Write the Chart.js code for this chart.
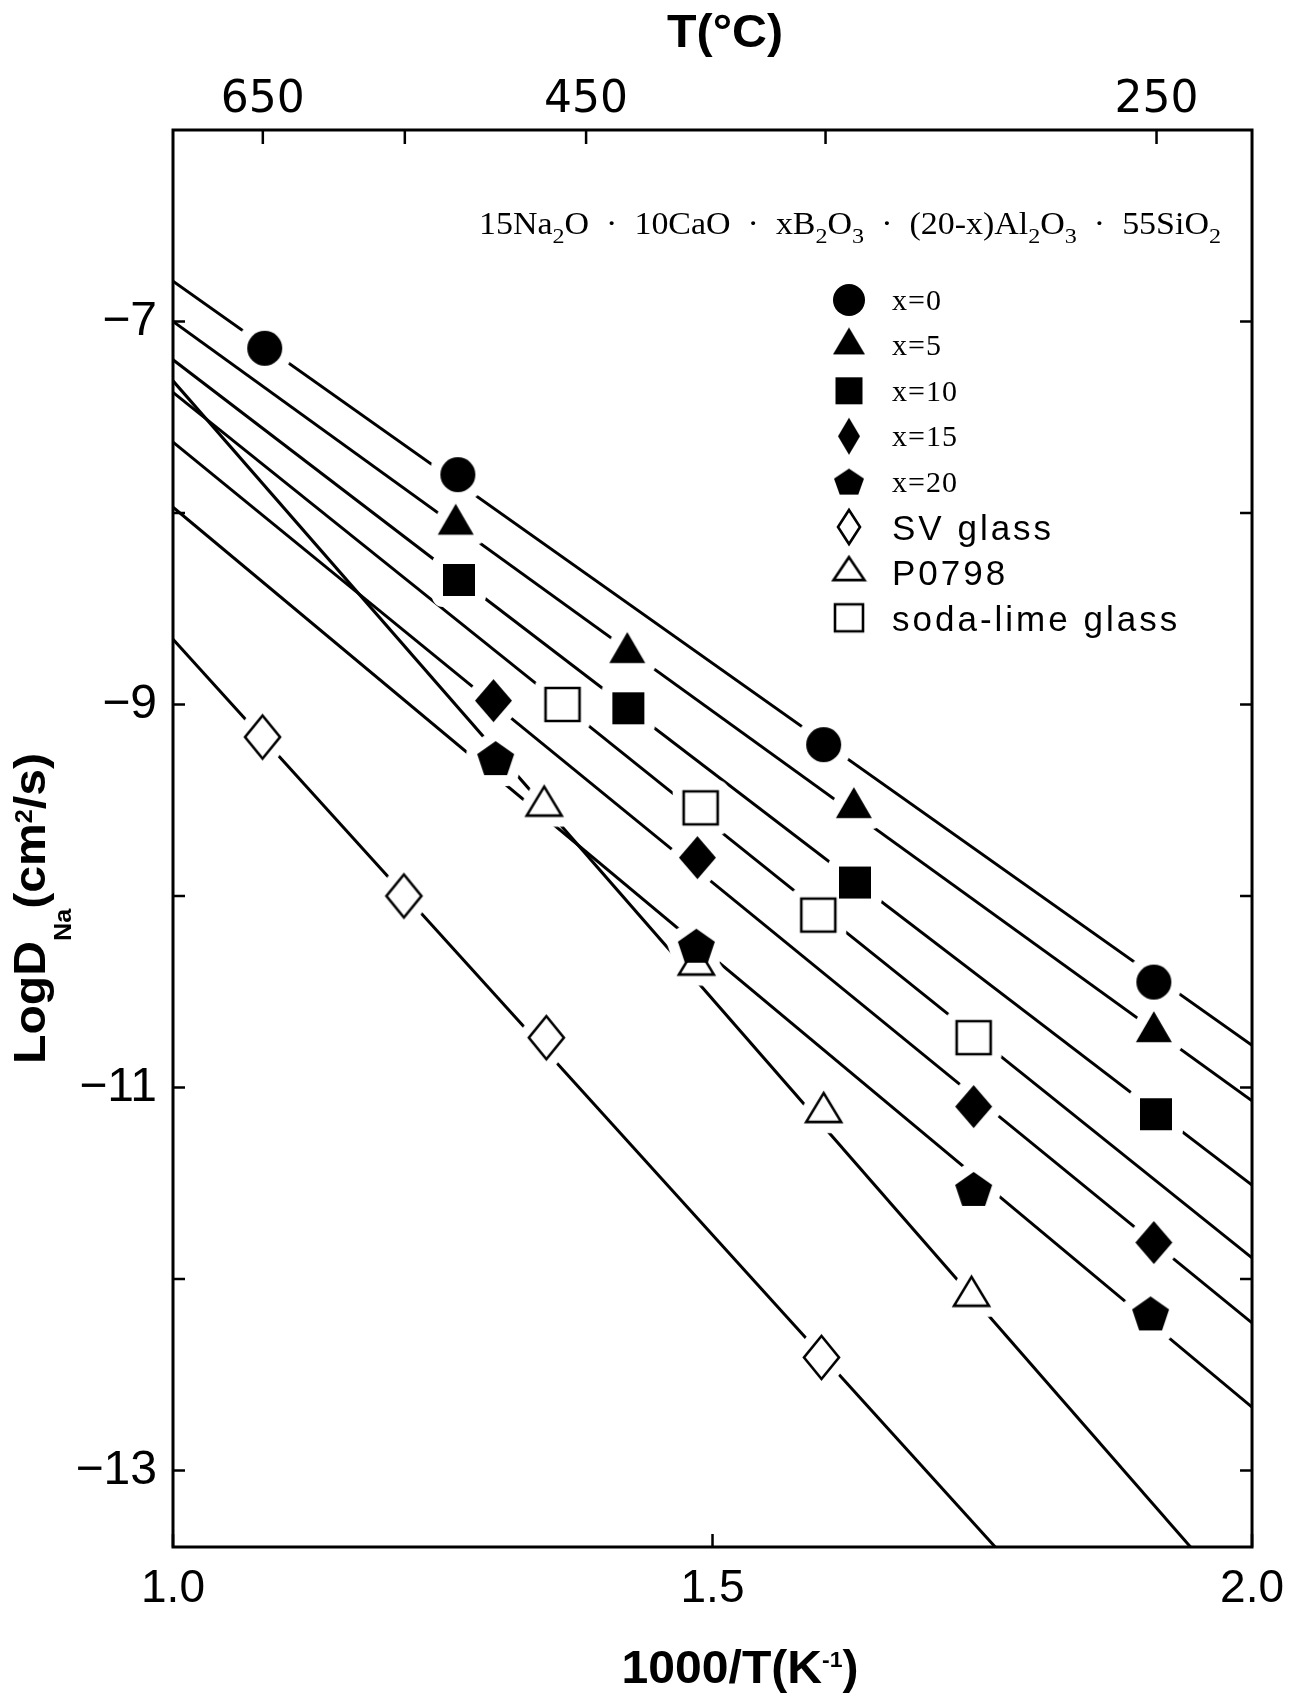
<!DOCTYPE html>
<html>
<head>
<meta charset="utf-8">
<title>Na diffusion vs 1000/T</title>
<script src="https://cdn.jsdelivr.net/npm/chart.js@4.4.1/dist/chart.umd.min.js"></script>
<style>
  html, body { margin: 0; padding: 0; background: #fff; }
  #wrap { position: relative; width: 1299px; height: 1696px; }
</style>
</head>
<body>
<div id="wrap"><canvas id="diffChart"></canvas></div>
<script>
// measured points: 1000/T (K^-1) and log D_Na (cm2/s)
const x0X = [1.085, 1.264, 1.603, 1.909];
const x0Y = [-7.14, -7.80, -9.21, -10.45];
const x5X = [1.262, 1.421, 1.631, 1.909];
const x5Y = [-8.06, -8.73, -9.54, -10.71];
const x10X = [1.265, 1.422, 1.632, 1.911];
const x10Y = [-8.35, -9.02, -9.93, -11.14];
const x15X = [1.297, 1.486, 1.742, 1.909];
const x15Y = [-8.98, -9.80, -11.10, -11.81];
const x20X = [1.299, 1.485, 1.742, 1.906];
const x20Y = [-9.28, -10.26, -11.53, -12.18];
const svX = [1.083, 1.214, 1.346, 1.601];
const svY = [-9.17, -10.00, -10.74, -12.41];
const pX = [1.344, 1.485, 1.603, 1.740];
const pY = [-9.53, -10.36, -11.13, -12.09];
const sodaX = [1.361, 1.489, 1.598, 1.742];
const sodaY = [-9.00, -9.54, -10.10, -10.74];

// fitted lines, read where they meet the frame
const fitX = [1.0, 2.0];
const fit0Y = [-6.79, -10.78];
const fit5Y = [-7.00, -11.07];
const fit10Y = [-7.20, -11.51];
const fit15Y = [-7.63, -12.23];
const fit20Y = [-7.97, -12.67];
const fitSodaY = [-7.37, -11.89];
const fitSvX = [1.0, 1.762];
const fitSvY = [-8.66, -13.4];
const fitPX = [1.0, 1.943];
const fitPY = [-7.31, -13.4];

const xTicks = [1.0, 1.5, 2.0];
const yTicks = [-7, -9, -11, -13];
const yMinorTicks = [-7, -8, -9, -10, -11, -12, -13];
const tempTicks = [650, 550, 450, 350, 250];
const tempLabels = [650, 450, 250];
const seriesLabels = ['x=0', 'x=5', 'x=10', 'x=15', 'x=20', 'SV glass', 'P0798', 'soda-lime glass'];

function shapePath(ctx, shape, cx, cy, w, h) {
  ctx.beginPath();
  if (shape === 'circle') {
    ctx.ellipse(cx, cy, w / 2, h / 2, 0, 0, Math.PI * 2);
  } else if (shape === 'square') {
    ctx.rect(cx - w / 2, cy - h / 2, w, h);
  } else if (shape === 'diamond') {
    ctx.moveTo(cx, cy - h / 2);
    ctx.lineTo(cx + w / 2, cy);
    ctx.lineTo(cx, cy + h / 2);
    ctx.lineTo(cx - w / 2, cy);
    ctx.closePath();
  } else if (shape === 'triangle') {
    // centroid sits on the point
    ctx.moveTo(cx, cy - 2 * h / 3);
    ctx.lineTo(cx + w / 2, cy + h / 3);
    ctx.lineTo(cx - w / 2, cy + h / 3);
    ctx.closePath();
  } else if (shape === 'pentagon') {
    const sx = Math.sin(Math.PI * 2 / 5);
    const bottom = Math.cos(Math.PI / 5);
    for (let i = 0; i < 5; i++) {
      const a = -Math.PI / 2 + i * Math.PI * 2 / 5;
      const px = cx + Math.cos(a) / sx * w / 2;
      const py = cy - h / 2 + (Math.sin(a) + 1) / (1 + bottom) * h;
      if (i === 0) ctx.moveTo(px, py); else ctx.lineTo(px, py);
    }
    ctx.closePath();
  }
}

// style: 'fill', 'open' or 'halo'
function makeMarker(shape, w, h, style, pad) {
  pad = pad || 0;
  const half = shape === 'triangle' ? 2 * h / 3 : h / 2;
  const c = document.createElement('canvas');
  c.width = Math.ceil(w + 2 * pad + 6);
  c.height = Math.ceil(2 * (half + pad) + 6);
  const ctx = c.getContext('2d');
  const cx = c.width / 2, cy = c.height / 2;
  shapePath(ctx, shape, cx, cy, w, h);
  ctx.lineJoin = 'round';
  if (style === 'halo') {
    ctx.fillStyle = '#fff';
    ctx.strokeStyle = '#fff';
    ctx.lineWidth = pad * 2;
    ctx.fill();
    ctx.stroke();
  } else if (style === 'open') {
    ctx.fillStyle = '#fff';
    ctx.strokeStyle = '#000';
    ctx.lineJoin = 'miter';
    ctx.lineWidth = 2.6;
    ctx.fill();
    ctx.stroke();
  } else {
    ctx.fillStyle = '#000';
    ctx.fill();
  }
  return c;
}

const HALO = 11;
const series = [
  { xs: x0X, ys: x0Y, fx: fitX, fy: fit0Y, shape: 'circle', style: 'fill', w: 35, h: 35, lw: 32, lh: 32 },
  { xs: x5X, ys: x5Y, fx: fitX, fy: fit5Y, shape: 'triangle', style: 'fill', w: 36, h: 31, lw: 32, lh: 27 },
  { xs: x10X, ys: x10Y, fx: fitX, fy: fit10Y, shape: 'square', style: 'fill', w: 32, h: 32, lw: 27, lh: 27 },
  { xs: x15X, ys: x15Y, fx: fitX, fy: fit15Y, shape: 'diamond', style: 'fill', w: 37, h: 43, lw: 22, lh: 37 },
  { xs: x20X, ys: x20Y, fx: fitX, fy: fit20Y, shape: 'pentagon', style: 'fill', w: 37, h: 34, lw: 30, lh: 26 },
  { xs: svX, ys: svY, fx: fitSvX, fy: fitSvY, shape: 'diamond', style: 'open', w: 35, h: 43, lw: 22, lh: 34 },
  { xs: pX, ys: pY, fx: fitPX, fy: fitPY, shape: 'triangle', style: 'open', w: 35, h: 29, lw: 31, lh: 23 },
  { xs: sodaX, ys: sodaY, fx: fitX, fy: fitSodaY, shape: 'square', style: 'open', w: 34, h: 33, lw: 28, lh: 27 }
];

const toPoints = (xs, ys) => xs.map((v, i) => ({ x: v, y: ys[i] }));

const datasets = [];
series.forEach((s, i) => {
  s.legendImg = makeMarker(s.shape, s.lw, s.lh, s.style);
  datasets.push({
    label: seriesLabels[i] + ' fit',
    data: toPoints(s.fx, s.fy),
    showLine: true,
    borderColor: '#000',
    borderWidth: 3,
    pointRadius: 0,
    order: 10
  });
  datasets.push({
    label: seriesLabels[i] + ' gap',
    data: toPoints(s.xs, s.ys),
    pointStyle: makeMarker(s.shape, s.w, s.h, 'halo', HALO),
    pointRadius: 5,
    order: 5
  });
  datasets.push({
    label: seriesLabels[i],
    data: toPoints(s.xs, s.ys),
    pointStyle: makeMarker(s.shape, s.w, s.h, s.style),
    pointRadius: 5,
    order: s.style === 'open' ? 2 : 1
  });
});

// text with sub/superscripts, parts are [text, '' | 'sub' | 'sup']
function drawRich(ctx, parts, x, y, o) {
  const font = sz => (o.weight || 'normal') + ' ' + sz + 'px ' + o.family;
  let w = 0;
  parts.forEach(p => {
    ctx.font = font(p[1] ? o.small : o.size);
    w += ctx.measureText(p[0]).width;
  });
  const k = o.width ? o.width / w : 1;
  ctx.save();
  ctx.translate(x, y);
  if (o.rotate) ctx.rotate(o.rotate);
  ctx.scale(k, 1);
  ctx.textAlign = 'left';
  ctx.textBaseline = 'alphabetic';
  ctx.fillStyle = '#000';
  let cx = o.align === 'center' ? -w / 2 : 0;
  parts.forEach(p => {
    ctx.font = font(p[1] ? o.small : o.size);
    const dy = p[1] === 'sub' ? o.subDy : (p[1] === 'sup' ? o.supDy : 0);
    ctx.fillText(p[0], cx, dy);
    cx += ctx.measureText(p[0]).width;
  });
  ctx.restore();
}

const decor = {
  id: 'decor',
  beforeDraw(chart) {
    const ctx = chart.ctx;
    ctx.save();
    ctx.fillStyle = '#fff';
    ctx.fillRect(0, 0, chart.width, chart.height);
    ctx.restore();
  },
  afterDraw(chart) {
    const ctx = chart.ctx;
    const a = chart.chartArea;
    const x = chart.scales.x, y = chart.scales.y;
    ctx.save();
    ctx.strokeStyle = '#000';
    ctx.lineWidth = 3;
    ctx.strokeRect(a.left, a.top, a.right - a.left, a.bottom - a.top);

    // inward ticks
    ctx.lineWidth = 2.5;
    ctx.beginPath();
    yMinorTicks.forEach(v => {
      const py = y.getPixelForValue(v);
      ctx.moveTo(a.left, py); ctx.lineTo(a.left + 12, py);
      ctx.moveTo(a.right, py); ctx.lineTo(a.right - 12, py);
    });
    tempTicks.forEach(t => {
      const px = x.getPixelForValue(1000 / (t + 273.15));
      ctx.moveTo(px, a.top); ctx.lineTo(px, a.top + 14);
    });
    xTicks.forEach(v => {
      const px = x.getPixelForValue(v);
      ctx.moveTo(px, a.bottom); ctx.lineTo(px, a.bottom - 13);
    });
    ctx.stroke();

    // composition
    drawRich(ctx, [
      ['15Na', ''], ['2', 'sub'], ['O  \u00b7  10CaO  \u00b7  xB', ''], ['2', 'sub'], ['O', ''], ['3', 'sub'],
      ['  \u00b7  (20-x)Al', ''], ['2', 'sub'], ['O', ''], ['3', 'sub'], ['  \u00b7  55SiO', ''], ['2', 'sub']
    ], 479, 234, { family: "'Liberation Serif', serif", size: 31, small: 22, subDy: 9, width: 742 });

    // legend
    series.forEach((s, i) => {
      const ry = 300 + i * 45.4;
      const img = s.legendImg;
      ctx.drawImage(img, 849 - img.width / 2, ry - img.height / 2);
      ctx.fillStyle = '#000';
      ctx.textAlign = 'left';
      ctx.textBaseline = 'alphabetic';
      if (i < 5) {
        ctx.letterSpacing = '1px';
        ctx.font = "30px 'Liberation Serif', serif";
        ctx.fillText(seriesLabels[i], 892, ry + 10);
      } else {
        ctx.letterSpacing = '3px';
        ctx.font = "35px 'Liberation Sans', Arial, sans-serif";
        ctx.fillText(seriesLabels[i], 892, ry + 13);
      }
    });
    ctx.letterSpacing = '0px';

    // axis titles
    const bold = { family: "'Liberation Sans', Arial, sans-serif", weight: 'bold' };
    drawRich(ctx, [['T(\u00b0C)', '']], 725, 47,
      Object.assign({ size: 46, small: 24, align: 'center', width: 116 }, bold));
    drawRich(ctx, [['1000/T(K', ''], ['-1', 'sup'], [')', '']], 740, 1683,
      Object.assign({ size: 46, small: 22, supDy: -16, align: 'center', width: 237 }, bold));
    drawRich(ctx, [['LogD', ''], ['Na', 'sub'], ['(cm', ''], ['2', 'sup'], ['/s)', '']], 45, 1064,
      Object.assign({ size: 44, small: 23, subDy: 26, supDy: -13, rotate: -Math.PI / 2, width: 311 }, bold));
    ctx.restore();
  }
};

const tickFont = { family: "'Liberation Sans', Arial, sans-serif", size: 46 };
const noGrid = { display: false, drawTicks: false };

new Chart(document.getElementById('diffChart'), {
  type: 'scatter',
  data: { datasets: datasets },
  options: {
    responsive: true,
    maintainAspectRatio: false,
    animation: false,
    events: [],
    layout: { padding: { left: 0, right: 38, top: 0, bottom: 0 } },
    plugins: {
      legend: { display: false },
      tooltip: { enabled: false }
    },
    scales: {
      x: {
        type: 'linear',
        position: 'bottom',
        min: 1,
        max: 2,
        afterBuildTicks: s => { s.ticks = xTicks.map(v => ({ value: v })); },
        afterFit: s => { s.height = 149; },
        ticks: {
          callback: v => Number(v).toFixed(1),
          font: tickFont,
          color: '#000',
          padding: 15,
          maxRotation: 0,
          autoSkip: false
        },
        grid: noGrid,
        border: { display: false }
      },
      x2: {
        type: 'linear',
        position: 'top',
        min: 1,
        max: 2,
        afterBuildTicks: s => { s.ticks = tempLabels.map(t => ({ value: 1000 / (t + 273.15) })); },
        afterFit: s => { s.height = 130; },
        ticks: {
          callback: (v, i) => String(tempLabels[i]),
          font: { family: "'DejaVu Sans', sans-serif", size: 44 },
          color: '#000',
          padding: 3,
          maxRotation: 0,
          autoSkip: false
        },
        grid: noGrid,
        border: { display: false }
      },
      y: {
        type: 'linear',
        position: 'left',
        min: -13.4,
        max: -6,
        afterBuildTicks: s => { s.ticks = yTicks.map(v => ({ value: v })); },
        afterFit: s => { s.width = 173; },
        ticks: {
          callback: v => '\u2212' + Math.abs(v),
          font: { family: "'Liberation Sans', Arial, sans-serif", size: 48 },
          color: '#000',
          padding: 16,
          autoSkip: false
        },
        grid: noGrid,
        border: { display: false }
      }
    }
  },
  plugins: [decor]
});
</script>
</body>
</html>
